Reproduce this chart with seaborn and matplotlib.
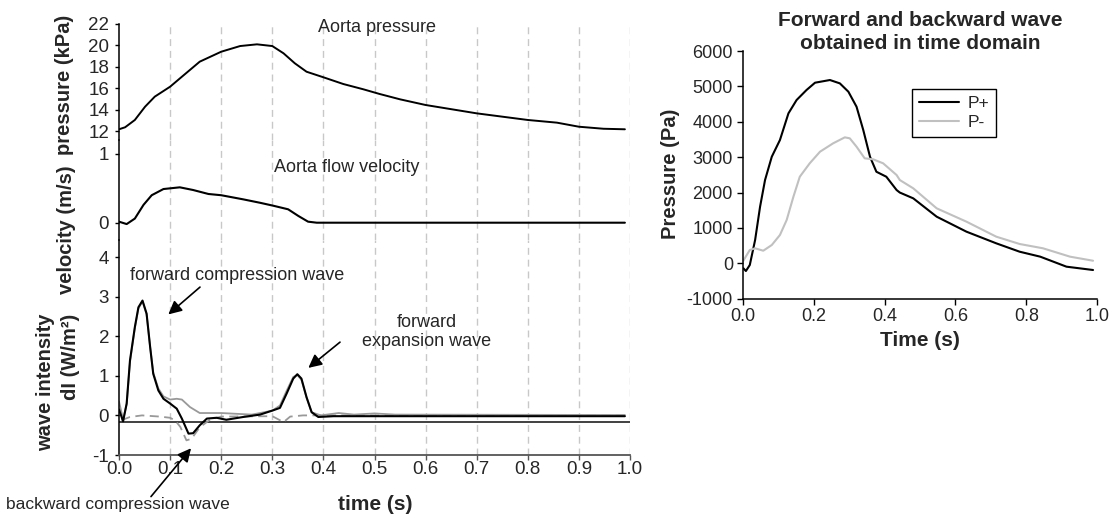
import numpy as np
import pandas as pd
import seaborn as sns
import matplotlib.pyplot as plt

# ---- data ----
# aorta pressure (kPa)
t_pres = [0.0, 0.012, 0.031, 0.051, 0.07, 0.1, 0.123, 0.158, 0.2, 0.237, 0.27, 0.3, 0.322,
          0.344, 0.367, 0.4, 0.439, 0.478, 0.51, 0.55, 0.6, 0.7, 0.8, 0.857, 0.9, 0.948, 0.99]
pres = [12.16, 12.35, 13.03, 14.27, 15.21, 16.14, 17.07, 18.48, 19.41, 19.94, 20.1, 19.94, 19.26,
        18.33, 17.54, 17.02, 16.39, 15.9, 15.46, 14.96, 14.43, 13.65, 13.03, 12.78, 12.4, 12.21, 12.16]

# aorta flow velocity (m/s)
t_vel = [0.0, 0.015, 0.031, 0.048, 0.064, 0.087, 0.119, 0.145, 0.175, 0.2, 0.243, 0.276,
         0.302, 0.331, 0.351, 0.37, 0.387, 0.99]
vel = [0.015, -0.02, 0.06, 0.26, 0.40, 0.49, 0.515, 0.476, 0.418, 0.40, 0.34, 0.29,
       0.247, 0.195, 0.098, 0.015, 0.0, 0.0]

# wave intensity dI (net, black)
t_di = [0.0, 0.008, 0.015, 0.0215, 0.031, 0.038, 0.046, 0.054, 0.061, 0.067, 0.077, 0.087,
        0.1, 0.113, 0.123, 0.136, 0.145, 0.158, 0.172, 0.191, 0.21, 0.243, 0.276, 0.302,
        0.315, 0.328, 0.341, 0.349, 0.357, 0.367, 0.377, 0.39, 0.42, 0.99]
di = [0.15, -0.15, 0.30, 1.39, 2.23, 2.73, 2.90, 2.57, 1.72, 1.05, 0.63, 0.42,
      0.30, 0.17, -0.08, -0.46, -0.45, -0.25, -0.08, -0.06, -0.11, -0.04, 0.02, 0.13,
      0.19, 0.55, 0.93, 1.04, 0.93, 0.46, 0.08, -0.04, -0.02, -0.02]

# forward intensity (grey solid)
t_dip = [0.0, 0.008, 0.015, 0.0215, 0.031, 0.038, 0.046, 0.054, 0.061, 0.067, 0.077, 0.087,
         0.1, 0.113, 0.123, 0.139, 0.158, 0.2, 0.26, 0.3, 0.315, 0.328, 0.341, 0.349,
         0.357, 0.367, 0.377, 0.395, 0.43, 0.46, 0.5, 0.54, 0.99]
dip = [0.35, -0.10, 0.28, 1.35, 2.20, 2.70, 2.88, 2.55, 1.72, 1.08, 0.68, 0.48,
       0.40, 0.42, 0.40, 0.21, 0.06, 0.06, 0.02, 0.12, 0.25, 0.62, 0.97, 1.02,
       0.90, 0.45, 0.08, 0.0, 0.06, 0.02, 0.05, 0.02, 0.01]

# backward intensity (grey dashed)
t_dim = [0.005, 0.0215, 0.045, 0.08, 0.1, 0.11, 0.12, 0.132, 0.142, 0.158, 0.178, 0.2,
         0.3, 0.322, 0.335, 0.36, 0.99]
dim = [-0.12, -0.04, 0.0, -0.03, -0.06, -0.13, -0.29, -0.63, -0.59, -0.30, -0.11, -0.03,
       -0.02, -0.17, -0.03, 0.0, 0.0]

# right panel: forward / backward pressure waves (Pa)
t_pp = [0.002, 0.009, 0.02, 0.035, 0.049, 0.063, 0.082, 0.105, 0.129, 0.152, 0.18, 0.204,
        0.246, 0.274, 0.298, 0.321, 0.34, 0.359, 0.377, 0.405, 0.434, 0.443, 0.481, 0.547,
        0.631, 0.715, 0.781, 0.839, 0.913, 0.988]
p_plus = [-141, -218, -48, 658, 1600, 2354, 3012, 3484, 4238, 4615, 4898, 5104,
          5180, 5085, 4850, 4426, 3767, 3012, 2588, 2447, 2071, 2000, 1836, 1318,
          894, 565, 328, 188, -95, -189]
t_pm = [0.0, 0.02, 0.035, 0.058, 0.082, 0.105, 0.124, 0.143, 0.161, 0.189, 0.218, 0.255,
        0.288, 0.302, 0.321, 0.344, 0.368, 0.396, 0.434, 0.443, 0.481, 0.547, 0.631,
        0.715, 0.781, 0.847, 0.923, 0.988]
p_minus = [45, 376, 424, 356, 517, 800, 1224, 1882, 2447, 2826, 3154, 3391,
           3560, 3532, 3296, 2967, 2939, 2826, 2495, 2354, 2119, 1554, 1177,
           753, 546, 424, 188, 73]

ref_level = -0.17  # dark horizontal line in intensity panel

sns.set_style("white")
plt.rcParams['font.family'] = ['Liberation Sans', 'DejaVu Sans']
plt.rcParams['axes.unicode_minus'] = False

W, H = 1115, 515
fig = plt.figure(figsize=(W / 100, H / 100), dpi=100)


def box(x0, y0, x1, y1):
    # pixel box (top-left origin) -> figure fraction rect
    return [x0 / W, 1 - y1 / H, (x1 - x0) / W, (y1 - y0) / H]


def fp(x, y):
    return x / W, 1 - y / H


ax_p = fig.add_axes(box(119, 24, 630, 140))
ax_v = fig.add_axes(box(119, 140, 630, 240))
ax_i = fig.add_axes(box(119, 240, 630, 455))
ax_r = fig.add_axes(box(742.7, 51, 1097.3, 298.7))

grid_kw = dict(color='#c8c8c8', lw=1, ls=(0, (5, 3.5)), zorder=0)

for ax in (ax_p, ax_v, ax_i):
    ax.set_xlim(0, 1.0)
    for g in np.arange(0.1, 1.01, 0.1):
        ax.axvline(g, **grid_kw)
    for s in ('top', 'right', 'bottom'):
        ax.spines[s].set_visible(False)
    ax.spines['left'].set_color('black')
    ax.spines['left'].set_linewidth(1.1)
    ax.tick_params(axis='y', direction='out', length=3.2, width=1, color='black',
                   labelsize=13.5, pad=4, left=True)
    ax.set_facecolor('none')

ax_p.set_xticks([])
ax_v.set_xticks([])

sns.lineplot(x=t_pres, y=pres, ax=ax_p, color='black', lw=1.4, sort=False)
ax_p.set_ylim(22 - (140 - 24) / 10.7, 22)
ax_p.set_yticks([12, 14, 16, 18, 20, 22])

sns.lineplot(x=t_vel, y=vel, ax=ax_v, color='black', lw=1.5, sort=False)
ax_v.set_ylim(-(240 - 222.7) / 68.7, 1 + (154 - 140) / 68.7)
ax_v.set_yticks([0, 1])

ax_i.axhline(ref_level, color='#404040', lw=1.4, zorder=1)
sns.lineplot(x=t_dip, y=dip, ax=ax_i, color='#999999', lw=1.3, sort=False)
sns.lineplot(x=t_dim, y=dim, ax=ax_i, color='#999999', lw=1.3, sort=False,
             linestyle=(0, (5, 3)))
sns.lineplot(x=t_di, y=di, ax=ax_i, color='black', lw=1.5, sort=False)
ax_i.set_ylim(-1, 4 + (257 - 240) / 39.6)
ax_i.set_yticks([-1, 0, 1, 2, 3, 4])
ax_i.spines['bottom'].set_visible(True)
ax_i.spines['bottom'].set_color('#555555')
ax_i.spines['bottom'].set_linewidth(1.3)
ax_i.set_xticks(np.round(np.arange(0, 1.01, 0.1), 1))
ax_i.set_xticklabels([f"{v:.1f}" for v in np.arange(0, 1.01, 0.1)])
ax_i.tick_params(axis='x', direction='out', length=3.5, width=1, color='#555555',
                 labelsize=13.5, pad=1, bottom=True)

# annotations
arrow_kw = dict(arrowstyle='-|>', color='black', lw=1.2, mutation_scale=20,
                shrinkA=0, shrinkB=0)
ax_i.annotate('', xy=(0.0965, 2.55), xytext=(0.1585, 3.24), arrowprops=arrow_kw)
ax_i.annotate('', xy=(0.3705, 1.20), xytext=(0.4325, 1.85), arrowprops=arrow_kw)
ax_i.annotate('', xy=(0.141, -0.83), xytext=(0.0626, -2.05), arrowprops=arrow_kw,
              annotation_clip=False)

fig.text(*fp(236.7, 275), 'forward compression wave', ha='center', va='center', fontsize=13)
fig.text(*fp(426.7, 332), 'forward\nexpansion wave', ha='center', va='center',
         fontsize=13, linespacing=1.2)
fig.text(*fp(117.5, 505), 'backward compression wave', ha='center', va='center', fontsize=12.5)
fig.text(*fp(377, 27), 'Aorta pressure', ha='center', va='center', fontsize=13)
fig.text(*fp(347, 167), 'Aorta flow velocity', ha='center', va='center', fontsize=13)

lab_kw = dict(rotation=90, ha='center', va='center', fontsize=14.5, fontweight='bold')
fig.text(*fp(64, 85), 'pressure (kPa)', **lab_kw)
fig.text(*fp(66, 230), 'velocity (m/s)', **lab_kw)
fig.text(*fp(46, 382), 'wave intensity', **lab_kw)
fig.text(*fp(70, 357), 'dI (W/m²)', **lab_kw)
fig.text(*fp(375, 505), 'time (s)', ha='center', va='center', fontsize=15, fontweight='bold')

# right panel
df = pd.concat([
    pd.DataFrame({'t': t_pp, 'p': p_plus, 'wave': 'P+'}),
    pd.DataFrame({'t': t_pm, 'p': p_minus, 'wave': 'P-'}),
])
sns.lineplot(data=df, x='t', y='p', hue='wave', palette={'P+': 'black', 'P-': '#c0c0c0'},
             ax=ax_r, lw=1.5, sort=False)
ax_r.set_xlim(0, 1.0)
ax_r.set_ylim(-1000, 6000)
ax_r.set_xticks([0, 0.2, 0.4, 0.6, 0.8, 1.0])
ax_r.set_xticklabels([f"{v:.1f}" for v in [0, 0.2, 0.4, 0.6, 0.8, 1.0]])
ax_r.set_yticks(range(-1000, 6001, 1000))
for s in ('top', 'right'):
    ax_r.spines[s].set_visible(False)
for s in ('left', 'bottom'):
    ax_r.spines[s].set_color('black')
    ax_r.spines[s].set_linewidth(1.1)
ax_r.tick_params(direction='out', length=4, width=1, color='black', labelsize=13, pad=3,
                 left=True, bottom=True)
ax_r.set_xlabel('')
ax_r.set_ylabel('')
leg = ax_r.legend(loc='upper left', bbox_to_anchor=(0.477, 0.847), fontsize=12.5,
                  frameon=True, fancybox=False, edgecolor='black', borderaxespad=0,
                  borderpad=0.4, labelspacing=0.25, handlelength=2.3, handletextpad=0.5)
leg.get_frame().set_linewidth(1)
leg.get_frame().set_alpha(1)

fig.text(*fp(920, 32), 'Forward and backward wave\nobtained in time domain', ha='center',
         va='center', fontsize=15, fontweight='bold', linespacing=1.25)
fig.text(*fp(671, 174), 'Pressure (Pa)', **lab_kw)
fig.text(*fp(920, 340), 'Time (s)', ha='center', va='center', fontsize=15, fontweight='bold')

fig.savefig('out.png', dpi=100, facecolor='white')
